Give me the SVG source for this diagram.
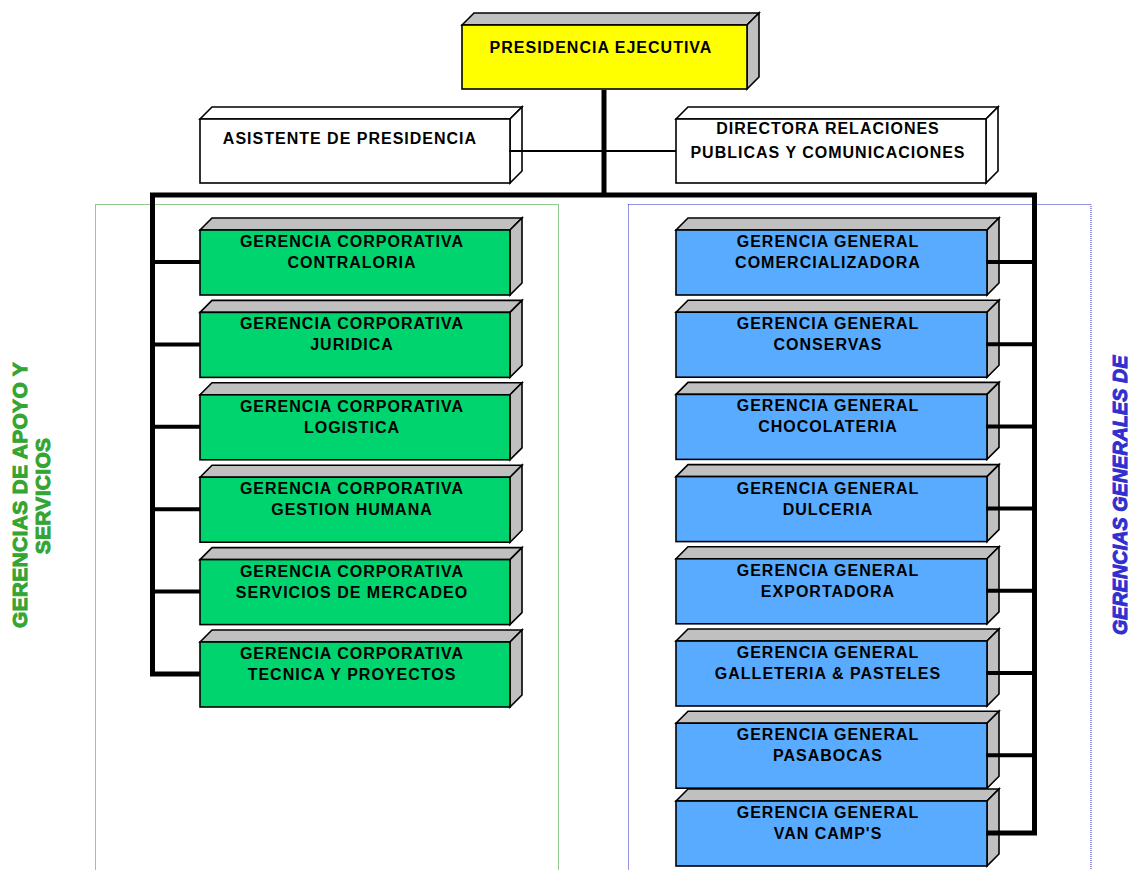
<svg xmlns="http://www.w3.org/2000/svg" width="1129" height="870" viewBox="0 0 1129 870">
<style>
.f{stroke:#000;stroke-width:1.6;stroke-linejoin:miter}
.g{fill:#C0C0C0}
.w{fill:#FFFFFF}
.y{fill:#FFFF00}
.gr{fill:#00D46E}
.bl{fill:#58ABFF}
.t{font-family:"Liberation Sans",Arial,sans-serif;font-weight:bold;font-size:16px;letter-spacing:1px;fill:#000;text-anchor:middle}
.c{fill:none;stroke:#000;stroke-linejoin:miter;stroke-linecap:butt}
.side{font-family:"Liberation Sans",Arial,sans-serif;font-weight:bold}
</style>
<rect width="1129" height="870" fill="#fff"/>
<!-- group frames -->
<g id="frames" fill="none" stroke-width="1" stroke-dasharray="1,1">
<rect x="95.5" y="204.5" width="463" height="700" stroke="#1E961E"/>
<rect x="628.5" y="204.5" width="462.5" height="700" stroke="#2A2ACC"/>
</g>
<!-- top nodes -->
<g id="presidencia">
<polygon class="f g" points="462,25 474,13 759,13 747,25"/>
<polygon class="f g" points="747,25 759,13 759,77 747,89"/>
<rect class="f y" x="462" y="25" width="285" height="64"/>
<text class="t" x="601" y="53">PRESIDENCIA EJECUTIVA</text>
</g>
<g id="asistente">
<polygon class="f w" points="200,119 212,107 522,107 510,119"/>
<polygon class="f w" points="510,119 522,107 522,171 510,183"/>
<rect class="f w" x="200" y="119" width="310" height="64"/>
<text class="t" x="350" y="144">ASISTENTE DE PRESIDENCIA</text>
</g>
<g id="directora">
<polygon class="f w" points="676,119 688,107 998,107 986,119"/>
<polygon class="f w" points="986,119 998,107 998,171 986,183"/>
<rect class="f w" x="676" y="119" width="310" height="64"/>
<text class="t" x="828" y="134">DIRECTORA RELACIONES</text>
<text class="t" x="828" y="158">PUBLICAS Y COMUNICACIONES</text>
</g>
<!-- green nodes -->
<g id="g1" transform="translate(0,230)">
<polygon class="f g" points="200,0 212,-12 522,-12 510,0"/>
<polygon class="f g" points="510,0 522,-12 522,53 510,65"/>
<rect class="f gr" x="200" y="0" width="310" height="65"/>
<text class="t" x="352" y="17">GERENCIA CORPORATIVA</text>
<text class="t" x="352" y="38">CONTRALORIA</text>
</g>
<g id="g2" transform="translate(0,312.4)">
<polygon class="f g" points="200,0 212,-12 522,-12 510,0"/>
<polygon class="f g" points="510,0 522,-12 522,53 510,65"/>
<rect class="f gr" x="200" y="0" width="310" height="65"/>
<text class="t" x="352" y="17">GERENCIA CORPORATIVA</text>
<text class="t" x="352" y="38">JURIDICA</text>
</g>
<g id="g3" transform="translate(0,394.8)">
<polygon class="f g" points="200,0 212,-12 522,-12 510,0"/>
<polygon class="f g" points="510,0 522,-12 522,53 510,65"/>
<rect class="f gr" x="200" y="0" width="310" height="65"/>
<text class="t" x="352" y="17">GERENCIA CORPORATIVA</text>
<text class="t" x="352" y="38">LOGISTICA</text>
</g>
<g id="g4" transform="translate(0,477.2)">
<polygon class="f g" points="200,0 212,-12 522,-12 510,0"/>
<polygon class="f g" points="510,0 522,-12 522,53 510,65"/>
<rect class="f gr" x="200" y="0" width="310" height="65"/>
<text class="t" x="352" y="17">GERENCIA CORPORATIVA</text>
<text class="t" x="352" y="38">GESTION HUMANA</text>
</g>
<g id="g5" transform="translate(0,559.6)">
<polygon class="f g" points="200,0 212,-12 522,-12 510,0"/>
<polygon class="f g" points="510,0 522,-12 522,53 510,65"/>
<rect class="f gr" x="200" y="0" width="310" height="65"/>
<text class="t" x="352" y="17">GERENCIA CORPORATIVA</text>
<text class="t" x="352" y="38">SERVICIOS DE MERCADEO</text>
</g>
<g id="g6" transform="translate(0,642)">
<polygon class="f g" points="200,0 212,-12 522,-12 510,0"/>
<polygon class="f g" points="510,0 522,-12 522,53 510,65"/>
<rect class="f gr" x="200" y="0" width="310" height="65"/>
<text class="t" x="352" y="17">GERENCIA CORPORATIVA</text>
<text class="t" x="352" y="38">TECNICA Y PROYECTOS</text>
</g>
<!-- blue nodes -->
<g id="b1" transform="translate(0,230)">
<polygon class="f g" points="676,0 688,-12 999,-12 987,0"/>
<polygon class="f g" points="987,0 999,-12 999,53 987,65"/>
<rect class="f bl" x="676" y="0" width="311" height="65"/>
<text class="t" x="828" y="17">GERENCIA GENERAL</text>
<text class="t" x="828" y="38">COMERCIALIZADORA</text>
</g>
<g id="b2" transform="translate(0,312.2)">
<polygon class="f g" points="676,0 688,-12 999,-12 987,0"/>
<polygon class="f g" points="987,0 999,-12 999,53 987,65"/>
<rect class="f bl" x="676" y="0" width="311" height="65"/>
<text class="t" x="828" y="17">GERENCIA GENERAL</text>
<text class="t" x="828" y="38">CONSERVAS</text>
</g>
<g id="b3" transform="translate(0,394.4)">
<polygon class="f g" points="676,0 688,-12 999,-12 987,0"/>
<polygon class="f g" points="987,0 999,-12 999,53 987,65"/>
<rect class="f bl" x="676" y="0" width="311" height="65"/>
<text class="t" x="828" y="17">GERENCIA GENERAL</text>
<text class="t" x="828" y="38">CHOCOLATERIA</text>
</g>
<g id="b4" transform="translate(0,476.6)">
<polygon class="f g" points="676,0 688,-12 999,-12 987,0"/>
<polygon class="f g" points="987,0 999,-12 999,53 987,65"/>
<rect class="f bl" x="676" y="0" width="311" height="65"/>
<text class="t" x="828" y="17">GERENCIA GENERAL</text>
<text class="t" x="828" y="38">DULCERIA</text>
</g>
<g id="b5" transform="translate(0,558.8)">
<polygon class="f g" points="676,0 688,-12 999,-12 987,0"/>
<polygon class="f g" points="987,0 999,-12 999,53 987,65"/>
<rect class="f bl" x="676" y="0" width="311" height="65"/>
<text class="t" x="828" y="17">GERENCIA GENERAL</text>
<text class="t" x="828" y="38">EXPORTADORA</text>
</g>
<g id="b6" transform="translate(0,641)">
<polygon class="f g" points="676,0 688,-12 999,-12 987,0"/>
<polygon class="f g" points="987,0 999,-12 999,53 987,65"/>
<rect class="f bl" x="676" y="0" width="311" height="65"/>
<text class="t" x="828" y="17">GERENCIA GENERAL</text>
<text class="t" x="828" y="38">GALLETERIA &amp; PASTELES</text>
</g>
<g id="b7" transform="translate(0,723.2)">
<polygon class="f g" points="676,0 688,-12 999,-12 987,0"/>
<polygon class="f g" points="987,0 999,-12 999,53 987,65"/>
<rect class="f bl" x="676" y="0" width="311" height="65"/>
<text class="t" x="828" y="17">GERENCIA GENERAL</text>
<text class="t" x="828" y="38">PASABOCAS</text>
</g>
<g id="b8" transform="translate(0,801)">
<polygon class="f g" points="676,0 688,-12 999,-12 987,0"/>
<polygon class="f g" points="987,0 999,-12 999,53 987,65"/>
<rect class="f bl" x="676" y="0" width="311" height="65"/>
<text class="t" x="828" y="17">GERENCIA GENERAL</text>
<text class="t" x="828" y="38">VAN CAMP'S</text>
</g>
<!-- connectors -->
<g id="connectors">
<line x1="509" y1="151" x2="676" y2="151" stroke="#000" stroke-width="2"/>
<path class="c" d="M604,90 V195" stroke-width="5"/>
<path class="c" d="M200,674 H152.5 V195 H1034.5 V833 H986" stroke-width="5"/>
<g stroke="#000" stroke-width="4">
<line x1="152" y1="262" x2="200" y2="262"/>
<line x1="152" y1="344.4" x2="200" y2="344.4"/>
<line x1="152" y1="426.8" x2="200" y2="426.8"/>
<line x1="152" y1="509.2" x2="200" y2="509.2"/>
<line x1="152" y1="591.6" x2="200" y2="591.6"/>
<line x1="986" y1="262" x2="1035" y2="262"/>
<line x1="986" y1="344.2" x2="1035" y2="344.2"/>
<line x1="986" y1="426.4" x2="1035" y2="426.4"/>
<line x1="986" y1="508.6" x2="1035" y2="508.6"/>
<line x1="986" y1="590.8" x2="1035" y2="590.8"/>
<line x1="986" y1="673" x2="1035" y2="673"/>
<line x1="986" y1="755.2" x2="1035" y2="755.2"/>
</g>
</g>
<!-- side labels -->
<g id="label-apoyo" class="side" font-size="21" fill="#33A532" stroke="#33A532" stroke-width="1" text-anchor="middle" letter-spacing="0.3">
<text transform="translate(27,495) rotate(-90)">GERENCIAS DE APOYO Y</text>
<text transform="translate(50,496) rotate(-90)">SERVICIOS</text>
</g>
<g id="label-generales" class="side" font-style="italic" font-size="19.5" fill="#3030D0" stroke="#3030D0" stroke-width="1" letter-spacing="0.2">
<text transform="translate(1127,635) rotate(-90)">GERENCIAS GENERALES DE</text>
</g>
</svg>
